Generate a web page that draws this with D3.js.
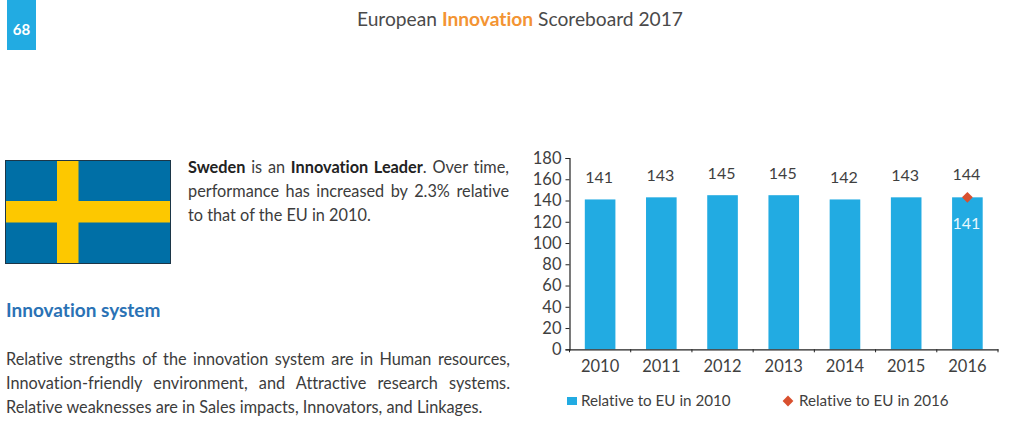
<!DOCTYPE html>
<html><head><meta charset="utf-8">
<script src="https://cdn.jsdelivr.net/npm/d3@7/dist/d3.min.js"></script>
<style>
html,body{margin:0;padding:0;background:#fff;width:1024px;height:431px;overflow:hidden}
svg{position:absolute;left:0;top:0;font-variant-ligatures:none}
.line{position:absolute;font-family:Lato,sans-serif;font-size:16.3px;color:#3c3c3c;white-space:nowrap;line-height:20px;font-variant-ligatures:none}
.just{text-align:justify;text-align-last:justify;white-space:normal}
b{font-weight:700;color:#222}
</style></head><body>
<svg id="c" width="1024" height="431"></svg>
<script>
const years = ["2010","2011","2012","2013","2014","2015","2016"];
const relative2010 = [141,143,145,145,141,143,143];
const topLabels = [141,143,145,145,142,143,144];
const relative2016 = [{year:"2016",value:143}];
const insideLabel = [{year:"2016",text:"141",value:118}];
const yTicks = [0,20,40,60,80,100,120,140,160,180];
const labelCentre = [177,175,173,173,177,175,174];

const svg = d3.select("#c");
const FONT = 'Lato,sans-serif', INK = "#3f3f3f", BLUE = "#22abe2", RED = "#d9502f";

// header
svg.append("rect").attr("x",7).attr("y",0).attr("width",29).attr("height",50).attr("fill",BLUE);
svg.append("text").attr("x",21.5).attr("y",35).attr("text-anchor","middle").attr("font-family",FONT)
  .attr("font-size",15).attr("font-weight",700).attr("fill","#fff").text("68");
const head = svg.append("text").attr("x",357).attr("y",26).attr("font-family",FONT).attr("font-size",19.2).attr("fill","#4a4a4a");
head.append("tspan").text("European ");
head.append("tspan").attr("font-weight",700).attr("fill","#f39433").text("Innovation");
head.append("tspan").text(" Scoreboard 2017");

// flag
svg.append("rect").attr("x",5.5).attr("y",160.5).attr("width",165).attr("height",103).attr("fill","#006fa6").attr("stroke","#1c3648");
svg.append("rect").attr("x",57).attr("y",161).attr("width",21.5).attr("height",102).attr("fill","#fdc800");
svg.append("rect").attr("x",6).attr("y",201).attr("width",164).attr("height",21.5).attr("fill","#fdc800");

// text blocks
const body = d3.select("body");
function line(x,y,w,html,just){
  body.append("div").attr("class","line"+(just?" just":"")).style("left",x+"px").style("top",y+"px")
    .style("width",w?w+"px":null).html(html);
}
line(188,157,321,"<b>Sweden</b> is an <b>Innovation Leader</b>. Over time,",true);
line(188,181,321,"performance has increased by 2.3% relative",true);
line(188,205,0,"to that of the EU in 2010.",false);
line(6,349,504,"Relative strengths of the innovation system are in Human resources,",true);
line(6,373,504,"Innovation-friendly environment, and Attractive research systems.",true);
line(6,397,0,"Relative weaknesses are in Sales impacts, Innovators, and Linkages.",false);
svg.append("text").attr("x",6).attr("y",317).attr("font-family",FONT).attr("font-size",19).attr("font-weight",700)
  .attr("fill","#2a72b5").text("Innovation system");

// chart
const x = d3.scaleBand().domain(years).range([569.5,998]).paddingInner(0.5).paddingOuter(0.25);
const xEdge = d3.scaleBand().domain(years).range([569.5,998]);
const y = d3.scaleLinear().domain([0,180]).range([349.3,158]);
const g = svg.append("g");
g.selectAll("rect.bar").data(years).join("rect").attr("class","bar")
  .attr("x",d=>x(d)).attr("width",x.bandwidth())
  .attr("y",(d,i)=>y(relative2010[i])).attr("height",(d,i)=>y(0)-y(relative2010[i])).attr("fill",BLUE);

const yAxis = g.append("g").attr("transform","translate(569.5,0)")
  .call(d3.axisLeft(y).tickValues(yTicks).tickSize(4).tickPadding(4));
const xAxis = g.append("g").attr("transform","translate(0,349.3)")
  .call(d3.axisBottom(xEdge).tickSize(0).tickPadding(11));
xAxis.selectAll(".edge").data(d3.range(8)).join("line").attr("class","edge")
  .attr("x1",i=>569.5+i*xEdge.step()).attr("x2",i=>569.5+i*xEdge.step()).attr("y1",0).attr("y2",3).attr("stroke","#222");
[yAxis,xAxis].forEach(a=>{
  a.selectAll("path").attr("stroke","#222").attr("stroke-width",1.2);
  a.selectAll("line").attr("stroke","#222");
  a.selectAll("text").attr("font-family",FONT).attr("font-size",16.5).attr("fill",INK);
});

g.selectAll("text.top").data(years).join("text").attr("class","top")
  .attr("x",d=>x(d)+x.bandwidth()/2-1).attr("y",(d,i)=>labelCentre[i]+5.5)
  .attr("text-anchor","middle").attr("font-family",FONT).attr("font-size",16).attr("fill",INK)
  .text((d,i)=>topLabels[i]);
g.selectAll("text.inside").data(insideLabel).join("text").attr("class","inside")
  .attr("x",d=>x(d.year)+x.bandwidth()/2-1).attr("y",d=>y(d.value)+5.5)
  .attr("text-anchor","middle").attr("font-family",FONT).attr("font-size",16).attr("fill","#e8f7fd").text(d=>d.text);
const diamond = d3.symbol().type(d3.symbolSquare).size(58);
g.selectAll("path.mk").data(relative2016).join("path").attr("class","mk").attr("d",diamond)
  .attr("transform",d=>`translate(${x(d.year)+x.bandwidth()/2},${y(d.value)}) rotate(45)`).attr("fill",RED);

// legend
const lg = svg.append("g").attr("font-family",FONT).attr("font-size",15.2).attr("fill",INK);
lg.append("rect").attr("x",567).attr("y",397).attr("width",10).attr("height",8).attr("fill",BLUE);
lg.append("text").attr("x",581).attr("y",406).text("Relative to EU in 2010");
lg.append("path").attr("d",diamond).attr("transform","translate(788,401) rotate(45)").attr("fill",RED);
lg.append("text").attr("x",799).attr("y",406).text("Relative to EU in 2016");
</script>
</body></html>
